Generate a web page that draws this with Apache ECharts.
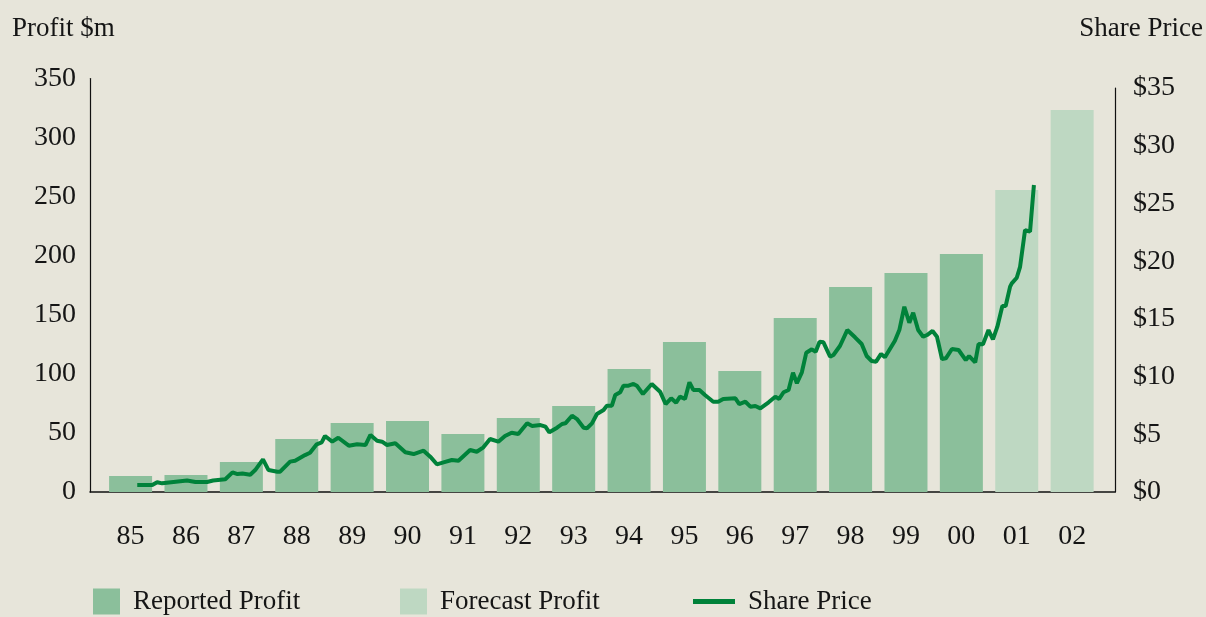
<!DOCTYPE html>
<html>
<head>
<meta charset="utf-8">
<script src="https://cdn.jsdelivr.net/npm/echarts@6/dist/echarts.min.js"></script>
<style>
html,body{margin:0;padding:0;background:#E7E5DA;}
#chart{width:1206px;height:617px;}
</style>
</head>
<body>
<div id="chart"></div>
<script>
// ---- data ----
const categories = ['85','86','87','88','89','90','91','92','93','94','95','96','97','98','99','00','01','02'];
const yearPositions = [1985,1986,1987,1988,1989,1990,1991,1992,1993,1994,1995,1996,1997,1998,1999,2000,2001,2002];
const reportedProfit = [13.5,14.4,25.4,44.9,58.4,60.1,49.1,62.6,72.8,104.1,127,102.4,147.3,173.5,185.4,201.5,null,null];
const forecastProfit = [null,null,null,null,null,null,null,null,null,null,null,null,null,null,null,null,255.6,323.3];
const priceDates = [1985.12,1985.39,1985.48,1985.57,1986.02,1986.17,1986.38,1986.49,1986.71,1986.84,1986.93,1987.02,1987.16,1987.25,1987.39,1987.49,1987.65,1987.70,1987.88,1987.97,
 1988.15,1988.24,1988.36,1988.45,1988.51,1988.64,1988.75,1988.94,1989.09,1989.24,1989.33,1989.45,1989.54,1989.63,1989.78,1989.96,1990.11,1990.29,1990.41,1990.53,1990.65,1990.80,1990.92,1990.95,
 1991.13,1991.25,1991.37,1991.49,1991.64,1991.76,1991.88,1992.00,1992.16,1992.25,1992.40,1992.49,1992.56,1992.70,1992.79,1992.85,1992.97,1993.06,1993.18,1993.24,1993.33,1993.42,1993.54,1993.60,1993.69,1993.75,1993.84,1993.90,1993.99,
 1994.08,1994.14,1994.25,1994.41,1994.56,1994.66,1994.76,1994.85,1994.92,1995.01,1995.09,1995.16,1995.27,1995.37,1995.52,1995.61,1995.70,1995.92,1995.99,1996.10,1996.19,1996.28,1996.37,1996.52,1996.64,1996.71,1996.79,1996.88,1996.96,
 1997.03,1997.12,1997.20,1997.30,1997.37,1997.44,1997.51,1997.63,1997.69,1997.81,1997.94,1998.08,1998.20,1998.29,1998.38,1998.46,1998.55,1998.62,1998.80,1998.88,1998.97,1999.06,1999.13,1999.22,1999.31,1999.38,1999.48,1999.56,1999.65,1999.72,1999.83,1999.95,
 2000.08,2000.14,2000.25,2000.31,2000.39,2000.49,2000.57,2000.65,2000.74,2000.80,2000.88,2000.91,2001.00,2001.06,2001.15,2001.24,2001.31];
const priceValues = [0.6,0.6,0.85,0.75,1.0,0.87,0.87,1.0,1.1,1.7,1.55,1.6,1.5,1.9,2.83,1.9,1.75,1.76,2.63,2.71,
 3.2,3.4,4.13,4.3,4.85,4.36,4.7,4.01,4.13,4.07,4.94,4.44,4.36,4.07,4.22,3.44,3.29,3.58,3.06,2.40,2.57,2.77,2.71,2.86,
 3.64,3.49,3.87,4.59,4.36,4.85,5.14,5.02,5.95,5.72,5.80,5.66,5.17,5.57,5.89,5.95,6.61,6.32,5.57,5.52,5.95,6.76,7.10,7.48,7.48,8.40,8.64,9.21,9.21,
 9.36,9.21,8.49,9.36,8.69,7.62,8.12,7.74,8.26,8.06,9.50,8.84,8.84,8.40,7.82,7.82,8.06,8.12,7.62,7.82,7.39,7.45,7.25,7.77,8.26,8.06,8.64,8.84,10.34,
 9.42,10.37,12.07,12.36,12.15,13.02,12.97,11.72,11.87,12.67,14.03,13.40,12.82,11.78,11.35,11.29,11.96,11.67,13.11,14.03,16.05,14.67,15.53,14.03,13.45,13.60,13.95,13.45,11.52,11.58,12.39,12.30,
 11.43,11.78,11.23,12.82,12.79,14.03,13.22,14.32,16.11,16.11,17.79,18.07,18.56,19.51,22.69,22.55,26.60];
const seriesNames = ['Reported Profit','Forecast Profit','Share Price'];

// ---- build ----
const toPairs = (xs, ys) => xs.map((x,i)=>[x, ys[i]]).filter(p => p[1] !== null);
const FONT = '"Liberation Serif", "Times New Roman", serif';
const TXT = '#151515';
const FS = 28;
const FS2 = 27;
const xMin = 1984.267, xMax = 2002.774;

const chart = echarts.init(document.getElementById('chart'), null, {renderer:'canvas'});
chart.setOption({
  backgroundColor: '#E7E5DA',
  animation: false,
  textStyle: {fontFamily: FONT},
  grid: [
    {left: 90, right: 91, top: 78.5, bottom: 125, containLabel: false},
    {left: 90, right: 91, top: 88, bottom: 125, containLabel: false}
  ],
  xAxis: [
    {type:'value', gridIndex:0, min:xMin, max:xMax,
     axisLine:{show:true, onZero:false, lineStyle:{color:'#111', width:1.5}},
     axisTick:{show:false}, splitLine:{show:false},
     axisLabel:{customValues: yearPositions, margin: 31, fontSize: FS, color: TXT, fontFamily: FONT,
       formatter: v => categories[yearPositions.indexOf(Math.round(v))]}},
    {type:'value', gridIndex:1, min:xMin, max:xMax, show:false}
  ],
  yAxis: [
    {type:'value', gridIndex:0, min:0, max:350, interval:50, position:'left',
     axisLine:{show:true, lineStyle:{color:'#111', width:1.2}},
     axisTick:{show:false}, splitLine:{show:false},
     axisLabel:{margin:14, fontSize:FS, color:TXT, fontFamily:FONT}},
    {type:'value', gridIndex:1, min:0, max:35, interval:5, position:'right',
     axisLine:{show:true, lineStyle:{color:'#111', width:1.2}},
     axisTick:{show:false}, splitLine:{show:false},
     axisLabel:{margin:18, fontSize:FS, color:TXT, fontFamily:FONT, formatter: v => '$' + v}}
  ],
  legend: [
    {data:[seriesNames[0]], left:93, top:588, padding:0, itemWidth:27, itemHeight:26, icon:'rect',
     textStyle:{fontSize:FS2, color:TXT, fontFamily:FONT, padding:[0,0,0,8]}},
    {data:[seriesNames[1]], left:400, top:588, padding:0, itemWidth:27, itemHeight:26, icon:'rect',
     textStyle:{fontSize:FS2, color:TXT, fontFamily:FONT, padding:[0,0,0,8]}},
    {data:[seriesNames[2]], left:693, top:588, padding:0, itemWidth:42, itemHeight:5, icon:'rect',
     textStyle:{fontSize:FS2, color:TXT, fontFamily:FONT, padding:[0,0,0,8]}}
  ],
  graphic: [
    {type:'text', left:12, top:15, style:{text:'Profit $m', font:FS2 + 'px ' + FONT, fill:TXT}},
    {type:'text', right:3, top:15, style:{text:'Share Price', font:FS2 + 'px ' + FONT, fill:TXT}}
  ],
  series: [
    {name:seriesNames[0], type:'bar', xAxisIndex:0, yAxisIndex:0, barWidth:43, barGap:'-100%',
     itemStyle:{color:'#8BBF9B'}, data: toPairs(yearPositions, reportedProfit)},
    {name:seriesNames[1], type:'bar', xAxisIndex:0, yAxisIndex:0, barWidth:43, barGap:'-100%',
     itemStyle:{color:'#BED8C2'}, data: toPairs(yearPositions, forecastProfit)},
    {name:seriesNames[2], type:'line', xAxisIndex:1, yAxisIndex:1, showSymbol:false, symbol:'none',
     lineStyle:{color:'#00823A', width:4}, itemStyle:{color:'#00823A'},
     data: toPairs(priceDates, priceValues), z:5}
  ]
});
</script>
</body>
</html>
